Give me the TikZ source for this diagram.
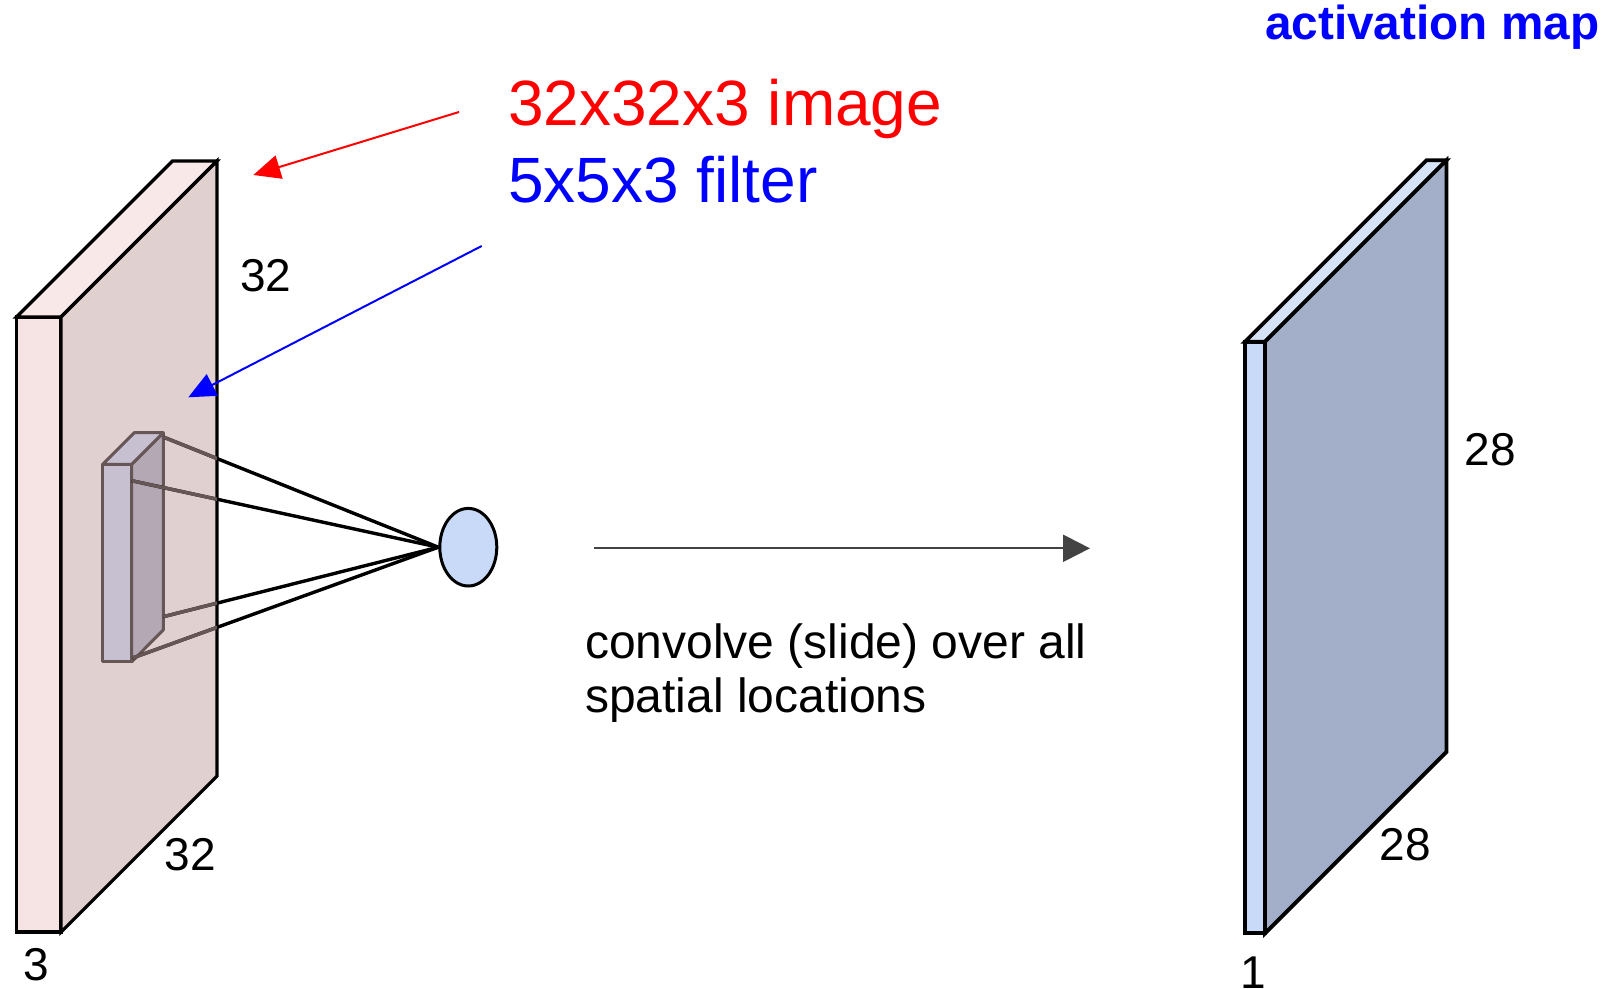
\documentclass[tikz,border=0pt]{standalone}
\usepackage{fontspec}
\setmainfont{Liberation Sans}
\usetikzlibrary{arrows.meta,shapes.geometric}
\definecolor{imgfront}{HTML}{F6E4E4}
\definecolor{imgtop}{HTML}{F8E8E8}
\definecolor{imgside}{HTML}{E0D0D0}
\definecolor{actfront}{HTML}{C9DAF8}
\definecolor{acttop}{HTML}{D5E2F6}
\definecolor{actside}{HTML}{A3AFC8}
\definecolor{filtfront}{HTML}{C7C0D1}
\definecolor{filtside}{HTML}{B3A8B4}
\definecolor{filtedge}{HTML}{665656}
\definecolor{arrowgrey}{HTML}{434343}
\tikzset{
  blockedge/.style={draw=black,line width=3.2pt,line join=miter},
  actedge/.style={draw=black,line width=3.8pt,line join=miter},
  filtline/.style={draw=filtedge,line width=3pt,line join=round},
  conn/.style={draw=black,line width=3.4pt},
  conngrey/.style={draw=filtedge,line width=3.4pt},
  lbl/.style={anchor=base west,inner sep=0pt,font=\fontsize{46}{46}\selectfont},
  biglbl/.style={anchor=base west,inner sep=0pt,font=\fontsize{64}{64}\selectfont},
  pointer/.style={line width=2pt,-{Triangle[length=27pt,width=24pt]}},
}
\begin{document}
\begin{tikzpicture}[x=1pt,y=-1pt]
\useasboundingbox (0,0) rectangle (1611,988);
% ---------- input volume ----------
\coordinate (L1) at (16.5,932);
\coordinate (L2) at (61,932);
\coordinate (L3) at (61,317);
\coordinate (L4) at (16.5,317);
\coordinate (L5) at (172.5,161);
\coordinate (L6) at (217,161);
\coordinate (L7) at (217,776);
\path[blockedge,fill=imgfront] (L1) -- (L2) -- (L3) -- (L4) -- cycle;
\path[blockedge,fill=imgtop] (L4) -- (L3) -- (L6) -- (L5) -- cycle;
\path[blockedge,fill=imgside] (L2) -- (L7) -- (L6) -- (L3) -- cycle;
% ---------- filter ----------
\coordinate (F1) at (102.7,661.7);
\coordinate (F2) at (131.7,661.7);
\coordinate (F3) at (131.7,464.3);
\coordinate (F4) at (102.7,464.3);
\coordinate (F5) at (134.3,432.7);
\coordinate (F6) at (163.3,432.7);
\coordinate (F7) at (163.3,630);
\path[filtline,fill=filtside] (F2) -- (F7) -- (F6) -- (F3) -- cycle;
\path[filtline,fill=filtfront] (F4) -- (F3) -- (F6) -- (F5) -- cycle;
\path[filtline,fill=filtfront] (F1) -- (F2) -- (F3) -- (F4) -- cycle;
\coordinate (c1) at (163.3,437);
\coordinate (c2) at (131.7,480.7);
\coordinate (c3) at (163.3,616.7);
\coordinate (c4) at (132.5,658);
% ---------- neuron ----------
\node[ellipse,draw=black,line width=3pt,fill=actfront,inner sep=0pt,
      minimum width=57pt,minimum height=77.6pt] (neuron) at (468.3,547.2) {};
\foreach \c in {c1,c2,c3,c4} \draw[conn] (\c) -- (neuron.west);
\begin{scope}
  \clip (L2) -- (L7) -- (L6) -- (L3) -- cycle;
  \foreach \c in {c1,c2,c3,c4} \draw[conngrey] (\c) -- (neuron.west);
\end{scope}
% ---------- activation map ----------
\coordinate (R1) at (1245,933.3);
\coordinate (R2) at (1265,933.3);
\coordinate (R3) at (1265,341.7);
\coordinate (R4) at (1245,341.7);
\coordinate (R5) at (1426.5,160.2);
\coordinate (R6) at (1446.5,160.2);
\coordinate (R7) at (1446.5,751.8);
\path[actedge,fill=actfront] (R1) -- (R2) -- (R3) -- (R4) -- cycle;
\path[actedge,fill=acttop] (R4) -- (R3) -- (R6) -- (R5) -- cycle;
\path[actedge,fill=actside] (R2) -- (R7) -- (R6) -- (R3) -- cycle;
% ---------- labels ----------
\node[biglbl,text=red] (imglbl) at (508,125) {32x32x3 image};
\node[biglbl,text=blue] (filtlbl) at (508,202) {5x5x3 filter};
\node[anchor=base west,inner sep=0pt,text=blue,font=\fontsize{47.7}{47.7}\selectfont\bfseries] (actlbl) at (1265,39.3) {activation map};
\node[lbl] (h32) at (240,291.7) {32};
\node[lbl] (w32) at (164.5,870.7) {32};
\node[lbl] (d3) at (23,980.7) {3};
\node[lbl] (h28) at (1464.5,465) {28};
\node[lbl] (w28) at (1379.5,860.7) {28};
\node[lbl] (d1) at (1240,988) {1};
\node[anchor=base west,inner sep=0pt,font=\fontsize{48}{48}\selectfont] (conv1) at (585,658) {convolve (slide) over all};
\node[anchor=base west,inner sep=0pt,font=\fontsize{48}{48}\selectfont] (conv2) at (585,712) {spatial locations};
% ---------- pointers ----------
\coordinate (redstart) at (459,112);
\coordinate (redtip) at (253.3,175);
\coordinate (bluestart) at (481.7,246);
\coordinate (bluetip) at (188.3,397.3);
\draw[pointer,red] (redstart) -- (redtip);
\draw[pointer,blue] (bluestart) -- (bluetip);
\coordinate (slidestart) at (594,548.3);
\coordinate (slideend) at (1090,548.3);
\draw[arrowgrey,line width=2.2pt,-{Triangle[length=27pt,width=27pt]}] (slidestart) -- (slideend);
\end{tikzpicture}
\end{document}
